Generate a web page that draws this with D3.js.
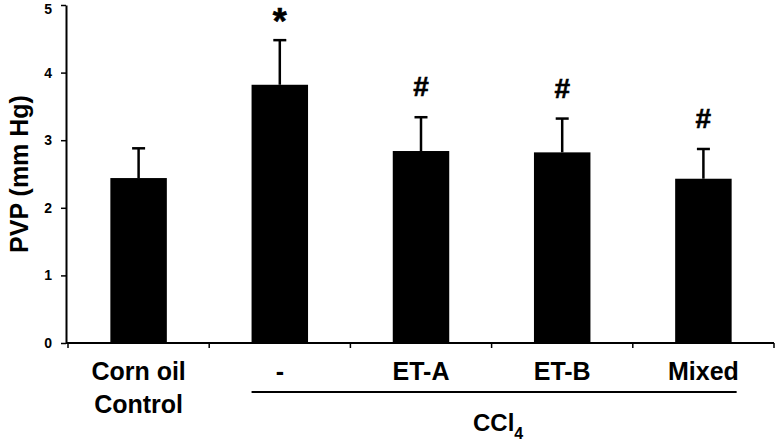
<!DOCTYPE html>
<html>
<head>
<meta charset="utf-8">
<script src="https://cdn.jsdelivr.net/npm/d3@7"></script>
<style>
  body { margin: 0; background: #fff; }
  text { font-family: Arial, "Liberation Sans", sans-serif; font-weight: bold; fill: #000; }
</style>
</head>
<body>
<div id="chart"></div>
<script>
// values
const groups = ["Corn oil Control", "-", "ET-A", "ET-B", "Mixed"];
const labelLines = [["Corn oil", "Control"], ["-"], ["ET-A"], ["ET-B"], ["Mixed"]];
const means = [2.44, 3.82, 2.84, 2.82, 2.43];
const errors = [0.44, 0.66, 0.50, 0.50, 0.44];
const marks = ["", "*", "#", "#", "#"];
const yTicks = [0, 1, 2, 3, 4, 5];
const treated = ["-", "ET-A", "ET-B", "Mixed"];

function draw() {
    const W = 776, H = 441;
    const svg = d3.select("#chart").append("svg").attr("width", W).attr("height", H);

    const x = d3.scaleBand().domain(groups).range([68, 774]).paddingInner(0.6).paddingOuter(0.3);
    const y = d3.scaleLinear().domain([0, 5]).range([343, 5]);

    const data = groups.map((g, i) => ({ g: g, mean: means[i], err: errors[i], mark: marks[i], lines: labelLines[i] }));

    // bars
    svg.selectAll("rect.bar").data(data).enter().append("rect")
        .attr("class", "bar")
        .attr("x", d => x(d.g))
        .attr("width", x.bandwidth())
        .attr("y", d => y(d.mean))
        .attr("height", d => y(0) - y(d.mean))
        .style("fill", "#000");

    // error bars (upper only)
    const cx = d => x(d.g) + x.bandwidth() / 2;
    svg.selectAll("line.err").data(data).enter().append("line")
        .attr("x1", cx).attr("x2", cx)
        .attr("y1", d => y(d.mean)).attr("y2", d => y(d.mean + d.err))
        .style("stroke", "#000").style("stroke-width", 2.5);
    svg.selectAll("line.cap").data(data).enter().append("line")
        .attr("x1", d => cx(d) - 6.5).attr("x2", d => cx(d) + 6.5)
        .attr("y1", d => y(d.mean + d.err)).attr("y2", d => y(d.mean + d.err))
        .style("stroke", "#000").style("stroke-width", 2.5);

    // significance marks
    const markStyle = { "*": { size: 36, gap: 6 }, "#": { size: 28, gap: 21 } };
    svg.selectAll("text.mark").data(data.filter(d => d.mark)).enter().append("text")
        .attr("x", cx)
        .attr("y", d => y(d.mean + d.err) - markStyle[d.mark].gap)
        .style("font-size", d => markStyle[d.mark].size + "px")
        .style("text-anchor", "middle")
        .style("stroke", "#000").style("stroke-width", 0.6)
        .text(d => d.mark);

    // y axis
    const yAxis = svg.append("g")
        .attr("transform", "translate(66,0)")
        .call(d3.axisLeft(y).tickValues(yTicks).tickFormat(d3.format("d"))
            .tickSize(5).tickSizeOuter(0).tickPadding(9));
    yAxis.select(".domain").style("stroke-width", 2);
    yAxis.selectAll(".tick line").style("stroke-width", 1.5);
    yAxis.selectAll(".tick text")
        .style("font-size", "14px")
        .style("font-family", "Arial, 'Liberation Sans', sans-serif")
        .filter(d => d === yTicks[yTicks.length - 1]).attr("dy", "0.6em");

    svg.append("text")
        .attr("transform", "translate(28," + ((y(0) + y(5)) / 2) + ") rotate(-90)")
        .style("font-size", "25px")
        .style("text-anchor", "middle")
        .text("PVP (mm Hg)");

    // x axis
    const gap = x.step() - x.bandwidth();
    const bounds = groups.map(g => x(g) - gap / 2).concat([x(groups[groups.length - 1]) + x.bandwidth() + gap / 2]);
    svg.append("line")
        .attr("x1", 66).attr("x2", bounds[bounds.length - 1])
        .attr("y1", y(0)).attr("y2", y(0))
        .style("stroke", "#000").style("stroke-width", 2);
    svg.selectAll("line.xtick").data(bounds).enter().append("line")
        .attr("x1", d => d).attr("x2", d => d)
        .attr("y1", y(0)).attr("y2", y(0) + 5)
        .style("stroke", "#000").style("stroke-width", 1.5);

    const lab = svg.selectAll("text.xlab").data(data).enter().append("text")
        .attr("x", cx)
        .attr("y", 380)
        .style("font-size", "25px")
        .style("text-anchor", "middle");
    lab.selectAll("tspan").data(d => d.lines.map(t => ({ t: t, x: cx(d) }))).enter().append("tspan")
        .attr("x", d => d.x)
        .attr("dy", (d, i) => i === 0 ? 0 : 33)
        .text(d => d.t);

    // CCl4 group bracket
    const gx1 = x(treated[0]);
    const gx2 = x(treated[treated.length - 1]) + x.bandwidth() + 5;
    svg.append("line")
        .attr("x1", gx1).attr("x2", gx2)
        .attr("y1", 392).attr("y2", 392)
        .style("stroke", "#000").style("stroke-width", 2);
    const ccl = svg.append("text")
        .attr("x", (gx1 + gx2) / 2 + 4)
        .attr("y", 431)
        .style("font-size", "24px")
        .style("text-anchor", "middle");
    ccl.append("tspan").text("CCl");
    ccl.append("tspan").attr("dy", 8).style("font-size", "16px").text("4");
}

draw();
</script>
</body>
</html>
